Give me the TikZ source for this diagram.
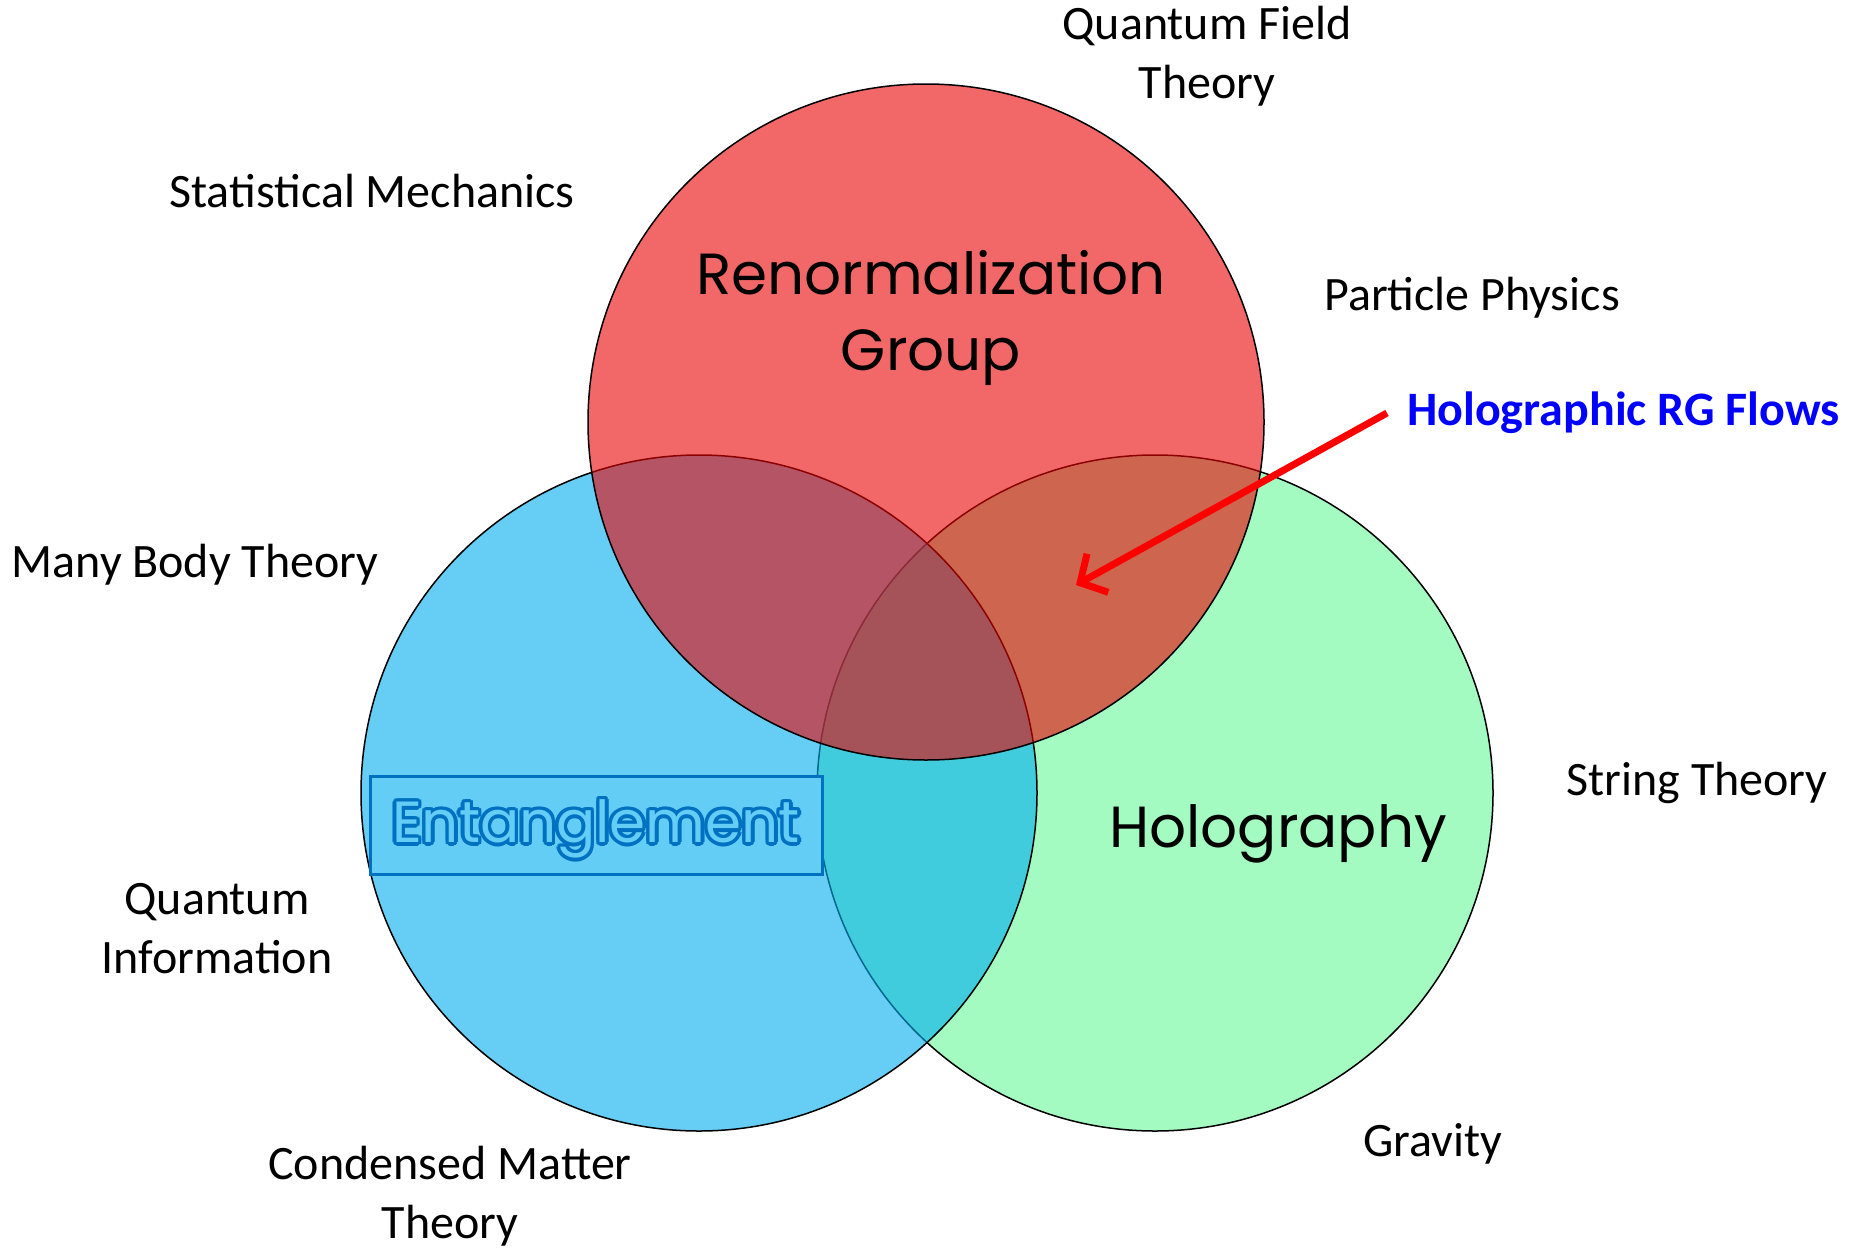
\documentclass[tikz,border=0pt]{standalone}
\usepackage{fontspec}
\setmainfont{Carlito}
\newfontfamily\headfont{Poppins}
\usetikzlibrary{arrows,arrows.meta,positioning,calc}

\definecolor{rgred}{RGB}{233,3,3}
\definecolor{entblue}{RGB}{0,173,239}
\definecolor{holgreen}{RGB}{102,248,153}
\definecolor{rimblue}{RGB}{0,112,192}
\definecolor{lightblue}{RGB}{100,205,245}

\tikzset{
  field/.style={font=\fontsize{48}{59}\selectfont, align=center, inner sep=0pt},
  headline/.style={font=\headfont\fontsize{58}{76}\selectfont, align=center, inner sep=0pt},
  venn/.style={draw=black, line width=1.5pt, fill opacity=0.6},
}

\begin{document}
\begin{tikzpicture}[x=1pt,y=-1pt]
  \useasboundingbox (0,0) rectangle (1857,1250);
  % the three circles
  \draw[venn, fill=holgreen] (1155,793) circle (338);
  \draw[venn, fill=entblue] (699,793) circle (338);
  \draw[venn, fill=rgred] (926,422) circle (338);

  % titles inside the circles
  \node[headline] (rg) at (931,318) {Renormalization\\Group};
  \node[headline] (holo) at (1278,834) {Holography};
  \node[draw=rimblue, line width=3pt, fill=lightblue, minimum width=452pt, minimum height=98pt] (entbox) at (596,825) {};
  \coordinate (entc) at (596,829);
  \foreach \a in {0,30,...,330}
    \node[headline, text=rimblue] (rim\a) at ($(entc)+(\a:3.5)$) {Entanglement};
  \node[headline, text=lightblue] (ent) at (entc) {Entanglement};

  % fields around the diagram
  \node[field] (qft) at (1207,56) {Quantum Field\\Theory};
  \node[field] (stat) at (372,191) {Statistical Mechanics};
  \node[field] (part) at (1472,298) {Particle Physics};
  \node[field] (many) at (195,565) {Many Body Theory};
  \node[field] (string) at (1697,783) {String Theory};
  \node[field] (qinfo) at (217,929) {Quantum\\Information};
  \node[field] (cond) at (450,1196) {Condensed Matter\\Theory};
  \node[field] (grav) at (1433,1144) {Gravity};

  % pointer to the overlap
  \node[field, font=\bfseries\fontsize{48}{59}\selectfont, text=blue, anchor=west] (flows) at (1407,413) {Holographic RG Flows};
  \coordinate (tip) at (1076,585);
  \draw[-{Straight Barb[length=20pt,width=44pt]}, red, line width=7pt] (flows.west) ++(-20,0) -- (tip);
\end{tikzpicture}
\end{document}
